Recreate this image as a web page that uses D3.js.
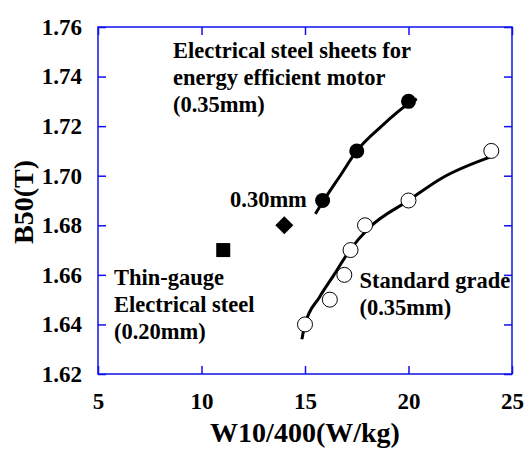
<!DOCTYPE html>
<html>
<head>
<meta charset="utf-8">
<script src="https://cdnjs.cloudflare.com/ajax/libs/d3/7.8.5/d3.min.js"></script>
<style>
  body { margin: 0; background: #fff; }
  text { font-family: "Liberation Serif", "Times New Roman", serif; font-weight: bold; fill: #000; }
</style>
</head>
<body>
<div id="chart-area"></div>
<script>
// efficient motor grade (filled circles)
var effW = [15.85, 17.5, 20.0];
var effB = [1.69, 1.71, 1.73];
// fitted line through them
var effFitW = [15.5, 15.9, 16.7, 17.5, 18.7, 20.0, 20.4];
var effFitB = [1.6846, 1.690, 1.700, 1.710, 1.720, 1.729, 1.731];

// standard grade (open circles)
var stdW = [15.0, 16.2, 16.9, 17.2, 17.9, 20.0, 24.0];
var stdB = [1.64, 1.65, 1.66, 1.67, 1.68, 1.69, 1.71];
var stdFitW = [14.85, 15.0, 15.7, 16.4, 17.17, 18.1, 20.0, 21.6, 24.0];
var stdFitB = [1.634, 1.640, 1.651, 1.660, 1.670, 1.679, 1.690, 1.699, 1.7077];

// single points
var thinW = [11.05], thinB = [1.67];   // square, 0.20mm
var midW = [14.0],  midB = [1.68];     // diamond, 0.30mm

var xTicks = [5, 10, 15, 20, 25];
var yTicks = [1.62, 1.64, 1.66, 1.68, 1.70, 1.72, 1.74, 1.76];

var margin = {top: 27, left: 98, bottom: 75, right: 18};
var width = 530 - margin.left - margin.right;
var height = 449 - margin.top - margin.bottom;

var svg = d3.select("#chart-area")
	.append("svg")
		.attr("width", 530)
		.attr("height", 449);
var g = svg.append("g")
		.attr("transform", "translate(" + margin.left + ", " + margin.top + ")");

var x = d3.scaleLinear().domain([5, 25]).range([0, width]);
var y = d3.scaleLinear().domain([1.62, 1.76]).range([height, 0]);

var axisColor = "#1010ee";

// axes, ticks pointing inward
var xAxis = g.append("g")
	.attr("transform", "translate(0," + height + ")")
	.call(d3.axisBottom(x).tickValues(xTicks).tickSize(-8).tickPadding(19).tickFormat(d3.format("d")));
var yAxis = g.append("g")
	.call(d3.axisLeft(y).tickValues(yTicks).tickSize(-8).tickPadding(16).tickFormat(d3.format(".2f")));
var xTop = g.append("g")
	.call(d3.axisTop(x).tickValues(xTicks).tickSize(-8).tickFormat(""));
var yRight = g.append("g")
	.attr("transform", "translate(" + width + ",0)")
	.call(d3.axisRight(y).tickValues(yTicks).tickSize(-8).tickFormat(""));

[xAxis, yAxis, xTop, yRight].forEach(function(a){
	a.select(".domain").remove();
	a.selectAll("line").attr("stroke", axisColor).attr("stroke-width", 1.5);
	a.selectAll("text")
		.attr("font-family", "Liberation Serif")
		.attr("font-weight", "bold")
		.attr("font-size", "23px")
		.attr("fill", "#000");
});
xAxis.selectAll("text").attr("dy", "0.71em");

g.append("rect")
	.attr("width", width).attr("height", height)
	.attr("fill", "none").attr("stroke", axisColor).attr("stroke-width", 1.5);

// axis labels
g.append("text")
	.attr("x", width / 2).attr("y", 441.7 - margin.top)
	.attr("text-anchor", "middle").attr("font-size", "28px")
	.text("W10/400(W/kg)");
svg.append("text")
	.attr("transform", "rotate(-90)")
	.attr("x", -202).attr("y", 33)
	.attr("text-anchor", "middle").attr("font-size", "28px")
	.text("B50(T)");

// fitted curves
var line = d3.line()
	.x(function(d){ return x(d[0]); })
	.y(function(d){ return y(d[1]); })
	.curve(d3.curveMonotoneX);

g.append("path")
	.datum(d3.zip(effFitW, effFitB))
	.attr("d", line).attr("fill", "none").attr("stroke", "#000").attr("stroke-width", 3);
g.append("path")
	.datum(d3.zip(stdFitW, stdFitB))
	.attr("d", line).attr("fill", "none").attr("stroke", "#000").attr("stroke-width", 3);

// points
g.selectAll(".eff").data(d3.zip(effW, effB)).enter()
	.append("circle").attr("class", "eff")
	.attr("cx", function(d){ return x(d[0]); })
	.attr("cy", function(d){ return y(d[1]); })
	.attr("r", 7.5).attr("fill", "#000");

g.selectAll(".std").data(d3.zip(stdW, stdB)).enter()
	.append("circle").attr("class", "std")
	.attr("cx", function(d){ return x(d[0]); })
	.attr("cy", function(d){ return y(d[1]); })
	.attr("r", 7.5).attr("fill", "#fff").attr("stroke", "#000").attr("stroke-width", 1);

g.selectAll(".thin").data(d3.zip(thinW, thinB)).enter()
	.append("rect").attr("class", "thin")
	.attr("x", function(d){ return x(d[0]) - 7; })
	.attr("y", function(d){ return y(d[1]) - 7; })
	.attr("width", 14).attr("height", 14).attr("fill", "#000");

g.selectAll(".mid").data(d3.zip(midW, midB)).enter()
	.append("path").attr("class", "mid")
	.attr("transform", function(d){ return "translate(" + x(d[0]) + "," + y(d[1]) + ")"; })
	.attr("d", "M0,-9L9,0L0,9L-9,0Z").attr("fill", "#000");

// annotations
function label(lines, px, py){
	var t = svg.append("text").attr("font-size", "22.5px");
	lines.forEach(function(s, i){
		t.append("tspan").attr("x", px).attr("y", py + i * 27).text(s);
	});
}
label(["Electrical steel sheets for", "energy efficient motor", "(0.35mm)"], 173, 57.7);
label(["0.30mm"], 230, 206.7);
label(["Thin-gauge", "Electrical steel", "(0.20mm)"], 114, 284.5);
label(["Standard grade", "(0.35mm)"], 359.5, 288.3);
</script>
</body>
</html>
